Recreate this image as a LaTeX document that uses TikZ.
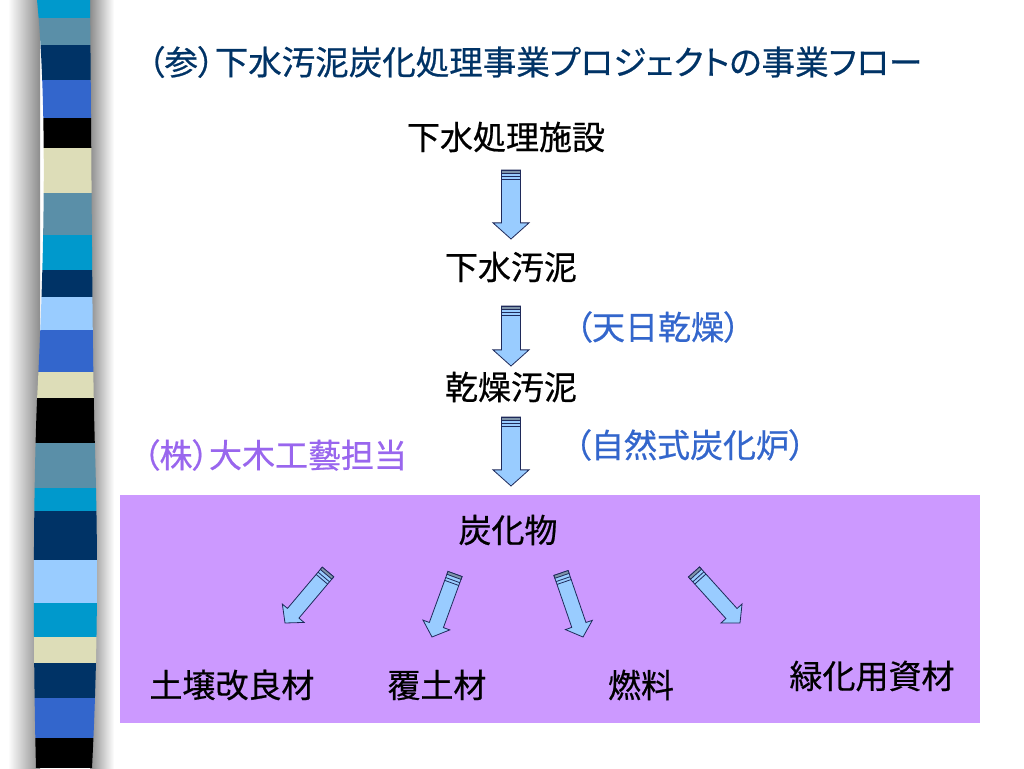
\documentclass[tikz,border=0pt]{standalone}
\usepackage{fontspec}
\setmainfont{Noto Sans CJK JP}[RawFeature={+palt}, FakeBold=0.6]
\usetikzlibrary{calc}

\definecolor{barcyan}{HTML}{0099CC}
\definecolor{barsteel}{HTML}{5A8FA8}
\definecolor{barnavy}{HTML}{003366}
\definecolor{barroyal}{HTML}{3366CC}
\definecolor{barcream}{HTML}{DDDDB8}
\definecolor{barlight}{HTML}{99CCFF}
\definecolor{titlenavy}{HTML}{003366}
\definecolor{noteblue}{HTML}{3366CC}
\definecolor{firmviolet}{HTML}{9966EE}
\definecolor{charbox}{HTML}{CC99FF}
\definecolor{arrowfill}{HTML}{99CCFF}
\definecolor{arrowline}{HTML}{1F2A5A}
\definecolor{arrowband}{HTML}{8095AA}

\tikzset{blockarrow/.style={draw=arrowline, fill=arrowfill, line width=0.8pt, line join=miter}}

% block arrow from tail coordinate to tip coordinate
\newcommand\flowarrow[3][9.5]{%
  \path let \p1=($(#3)-(#2)$) in \pgfextra{%
    \pgfmathsetmacro\arrang{atan2(\y1,\x1)}\xdef\arrang{\arrang}%
    \pgfmathsetmacro\arrlen{veclen(\x1,\y1)}\xdef\arrlen{\arrlen}};
  \begin{scope}[shift={(#2)}, rotate=\arrang]
    \pgfmathsetmacro\hw{1.9*#1}\pgfmathsetmacro\hs{\arrlen-1.7*#1}
    \draw[blockarrow] (0,-#1) -- (\hs,-#1) -- (\hs,-\hw) -- (\arrlen,0) -- (\hs,\hw) -- (\hs,#1) -- (0,#1) -- cycle;
    \fill[arrowband] (0,-#1) rectangle (3,#1);
    \draw[arrowline, line width=0.8pt] (0,-#1) rectangle (3,#1) (6.5,-#1) -- (6.5,#1) (9.5,-#1) -- (9.5,#1);
  \end{scope}}

\begin{document}
\begin{tikzpicture}[x=1pt, y=-1pt,
    every node/.style={inner sep=0pt, font=\fontsize{33}{33}\selectfont},
    titletext/.style={text=titlenavy, font=\fontsize{33.5}{33.5}\selectfont},
    notetext/.style={text=noteblue},
    firmtext/.style={text=firmviolet}]
    \useasboundingbox (0,0) rectangle (1024,768);
    \fill[white] (0,0) rectangle (1024,768);

    % striped bar on the left
    \shade[left color=white, right color=black!45] (8,0) rectangle (40,768);
    \shade[left color=black!45, right color=white] (90,0) rectangle (114,768);
    \begin{scope}
        \clip (37,0) .. controls (47,100) and (45,250) .. (37,400) .. controls (33,500) and (33,650) .. (36,768)
            -- (92,768) .. controls (98,650) and (98,550) .. (95,450) .. controls (92,350) and (92,200) .. (90,0) -- cycle;
        \foreach \ytop/\ybot/\col in {0/18/barcyan, 18/45/barsteel, 45/80/barnavy, 80/118/barroyal,
                118/148/black, 148/193/barcream, 193/235/barsteel, 235/270/barcyan, 270/297/barnavy,
                297/330/barlight, 330/372/barroyal, 372/398/barcream, 398/443/black, 443/488/barsteel,
                488/511/barcyan, 511/560/barnavy, 560/603/barlight, 603/637/barcyan, 637/663/barcream,
                663/698/barnavy, 698/738/barroyal, 738/768/black}
            \fill[\col] (30,\ytop) rectangle (100,\ybot);
    \end{scope}

    % char box
    \fill[charbox] (120,495) rectangle (980,723);

    % texts
    \node[titletext] (title) at (535,62) {（参）下水汚泥炭化処理事業プロジェクトの事業フロー};
    \node (plant) at (506,137) {下水処理施設};
    \node (sludge) at (511,267) {下水汚泥};
    \node[notetext] (sundry) at (658,327) {（天日乾燥）};
    \node (dried) at (511,387) {乾燥汚泥};
    \node[notetext] (kiln) at (690,445) {（自然式炭化炉）};
    \node[firmtext] (firm) at (275,455) {（株）大木工藝担当};
    \node (char) at (508,530) {炭化物};
    \node (soil) at (232,685) {土壌改良材};
    \node (cover) at (437,685) {覆土材};
    \node (fuel) at (641,685) {燃料};
    \node (green) at (872,676) {緑化用資材};

    % arrow ends
    \coordinate (a1s) at (511,170);
    \coordinate (a1e) at (511,239);
    \coordinate (a2s) at (511,306);
    \coordinate (a2e) at (511,366);
    \coordinate (a3s) at (511,417);
    \coordinate (a3e) at (511,486);
    \coordinate (b1s) at (328,572);
    \coordinate (b1e) at (285,623);
    \coordinate (b2s) at (455,574);
    \coordinate (b2e) at (432,637);
    \coordinate (b3s) at (561,573);
    \coordinate (b3e) at (583,637);
    \coordinate (b4s) at (694,572);
    \coordinate (b4e) at (740,623);

    \flowarrow{a1s}{a1e}
    \flowarrow{a2s}{a2e}
    \flowarrow{a3s}{a3e}
    \flowarrow[7.5]{b1s}{b1e}
    \flowarrow[7.5]{b2s}{b2e}
    \flowarrow[7.5]{b3s}{b3e}
    \flowarrow[7.5]{b4s}{b4e}
\end{tikzpicture}
\end{document}
